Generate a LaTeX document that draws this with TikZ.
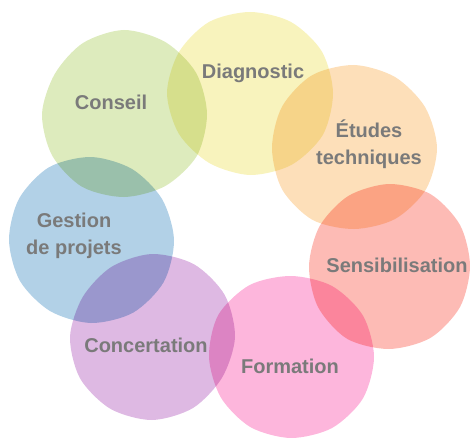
\documentclass[tikz,border=0pt]{standalone}
\usepackage{fontspec}
\setmainfont{Liberation Sans}
\usetikzlibrary{calc}
\definecolor{color0}{RGB}{221,235,189}
\definecolor{color1}{RGB}{248,243,189}
\definecolor{color2}{RGB}{253,223,185}
\definecolor{color3}{RGB}{253,187,181}
\definecolor{color4}{RGB}{253,182,220}
\definecolor{color5}{RGB}{222,185,227}
\definecolor{color6}{RGB}{178,209,231}
\definecolor{color7}{RGB}{122,122,122}
\tikzstyle{blob} = [blend mode=multiply]
\tikzstyle{word} = [text=color7, font=\bfseries\fontsize{20}{27}\selectfont, align=center, inner sep=0pt]

\begin{document}
\begin{tikzpicture}[x=1pt, y=1pt]
	\useasboundingbox (0,0) rectangle (470,437);

	\coordinate (C-Conseil) at (124,323);
	\coordinate (C-Diag) at (250,344);
	\coordinate (C-Etudes) at (354,289);
	\coordinate (C-Sensi) at (389,171);
	\coordinate (C-Formation) at (291,80);
	\coordinate (C-Concert) at (152,100);
	\coordinate (C-Gestion) at (91,197);

	\fill[blob, color0, shift={(C-Conseil)}] plot[smooth cycle] coordinates {(0:83) (30:83) (60:83) (90:84) (120:82) (150:80) (180:82) (210:83) (240:84) (270:83) (300:83) (330:84)};
	\fill[blob, color1, shift={(C-Diag)}] plot[smooth cycle] coordinates {(0:83) (30:83) (60:82) (90:81) (120:82) (150:82) (180:83) (210:82) (240:81) (270:82) (300:83) (330:84)};
	\fill[blob, color2, shift={(C-Etudes)}] plot[smooth cycle] coordinates {(0:83) (30:82) (60:82) (90:83) (120:84) (150:83) (180:82) (210:83) (240:83) (270:81) (300:82) (330:83)};
	\fill[blob, color3, shift={(C-Sensi)}] plot[smooth cycle] coordinates {(0:81) (30:82) (60:83) (90:82) (120:81) (150:80) (180:80) (210:82) (240:84) (270:83) (300:83) (330:82)};
	\fill[blob, color4, shift={(C-Formation)}] plot[smooth cycle] coordinates {(0:83) (30:83) (60:82) (90:81) (120:83) (150:84) (180:82) (210:81) (240:81) (270:81) (300:82) (330:83)};
	\fill[blob, color5, shift={(C-Concert)}] plot[smooth cycle] coordinates {(0:83) (30:84) (60:84) (90:83) (120:81) (150:80) (180:82) (210:83) (240:83) (270:83) (300:82) (330:81)};
	\fill[blob, color6, shift={(C-Gestion)}] plot[smooth cycle] coordinates {(0:83) (30:82) (60:82) (90:83) (120:84) (150:83) (180:82) (210:82) (240:82) (270:83) (300:84) (330:84)};

	% labels
	\node[word] at ([xshift=-13pt, yshift=12pt]C-Conseil) (Conseil) {Conseil};
	\node[word] at ([xshift=3pt, yshift=20pt]C-Diag) (Diagnostic) {Diagnostic};
	\node[word] at ([xshift=15pt, yshift=4pt]C-Etudes) (Etudes) {Études\\techniques};
	\node[word] at ([xshift=8pt, yshift=1pt]C-Sensi) (Sensibilisation) {Sensibilisation};
	\node[word] at ([xshift=-1pt, yshift=-9pt]C-Formation) (Formation) {Formation};
	\node[word] at ([xshift=-6pt, yshift=-8pt]C-Concert) (Concertation) {Concertation};
	\node[word] at ([xshift=-17pt, yshift=4pt]C-Gestion) (Gestion) {Gestion\\de projets};

\end{tikzpicture}
\end{document}
